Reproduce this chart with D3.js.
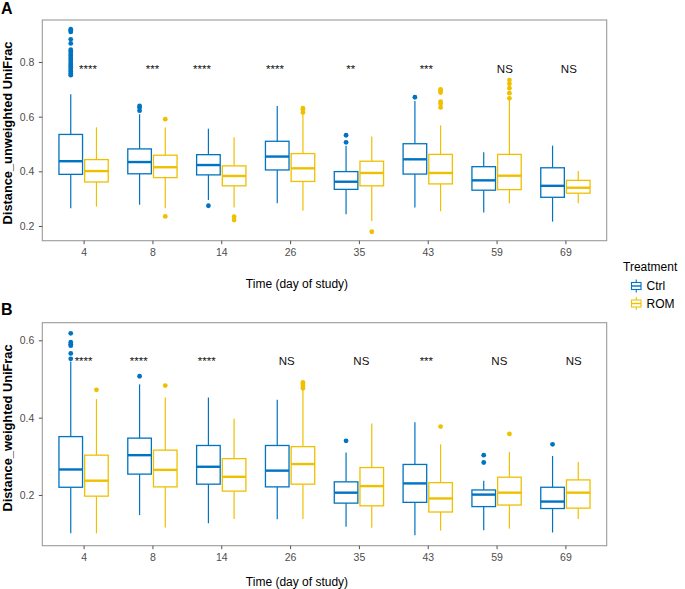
<!DOCTYPE html>
<html>
<head>
<meta charset="utf-8">
<script src="https://cdn.jsdelivr.net/npm/d3@7"></script>
<style>
  html, body { margin: 0; padding: 0; background: #fff; }
  svg { display: block; font-family: "Liberation Sans", Arial, Helvetica, sans-serif; }
</style>
</head>
<body>
<svg id="chart" width="685" height="589"></svg>
<script>
// ---------------- DATA ----------------
const days = ["4", "8", "14", "26", "35", "43", "59", "69"];
const treatments = ["Ctrl", "ROM"];

// Panel A: Distance_unweighted UniFrac — [lower whisker, Q1, median, Q3, upper whisker]
const unwCtrl = [
  [0.265, 0.389, 0.437, 0.535, 0.682],
  [0.278, 0.391, 0.434, 0.482, 0.609],
  [0.295, 0.387, 0.423, 0.461, 0.556],
  [0.283, 0.405, 0.454, 0.510, 0.639],
  [0.243, 0.334, 0.362, 0.399, 0.494],
  [0.268, 0.390, 0.444, 0.501, 0.657],
  [0.249, 0.331, 0.367, 0.417, 0.470],
  [0.216, 0.305, 0.347, 0.413, 0.494]
];
const unwRom = [
  [0.271, 0.361, 0.401, 0.443, 0.561],
  [0.265, 0.377, 0.415, 0.459, 0.560],
  [0.268, 0.347, 0.383, 0.420, 0.525],
  [0.256, 0.363, 0.411, 0.465, 0.607],
  [0.218, 0.347, 0.394, 0.437, 0.527],
  [0.254, 0.354, 0.394, 0.462, 0.568],
  [0.283, 0.333, 0.384, 0.462, 0.661],
  [0.283, 0.320, 0.340, 0.367, 0.401]
];
const unwCtrlOut = [
  [0.752, 0.758, 0.765, 0.772, 0.780, 0.786, 0.793, 0.800, 0.808, 0.815, 0.823, 0.830, 0.838, 0.845, 0.868, 0.883, 0.910, 0.915, 0.920],
  [0.622, 0.634, 0.639],
  [0.274],
  [],
  [0.506, 0.532],
  [0.671],
  [],
  []
];
const unwRomOut = [
  [],
  [0.235, 0.591],
  [0.222, 0.234],
  [0.615, 0.625, 0.631],
  [0.179],
  [0.634, 0.647, 0.655, 0.688, 0.694, 0.700],
  [0.667, 0.686, 0.704, 0.720, 0.734],
  []
];
const unwSig = ["****", "***", "****", "****", "**", "***", "NS", "NS"];

// Panel B: Distance_weighted UniFrac
const wCtrl = [
  [0.101, 0.220, 0.266, 0.351, 0.545],
  [0.148, 0.254, 0.303, 0.347, 0.486],
  [0.127, 0.228, 0.273, 0.328, 0.452],
  [0.137, 0.221, 0.263, 0.328, 0.446],
  [0.118, 0.179, 0.206, 0.234, 0.310],
  [0.096, 0.181, 0.230, 0.279, 0.388],
  [0.109, 0.170, 0.201, 0.213, 0.237],
  [0.103, 0.165, 0.183, 0.220, 0.301]
];
const wRom = [
  [0.101, 0.197, 0.237, 0.303, 0.448],
  [0.116, 0.221, 0.265, 0.316, 0.452],
  [0.138, 0.210, 0.247, 0.294, 0.397],
  [0.138, 0.228, 0.280, 0.325, 0.472],
  [0.115, 0.172, 0.223, 0.271, 0.385],
  [0.108, 0.156, 0.191, 0.232, 0.331],
  [0.113, 0.174, 0.206, 0.246, 0.311],
  [0.138, 0.166, 0.206, 0.239, 0.285]
];
const wCtrlOut = [
  [0.552, 0.566, 0.586, 0.590, 0.595, 0.618],
  [0.507],
  [],
  [],
  [0.340],
  [],
  [0.284, 0.303],
  [0.331]
];
const wRomOut = [
  [0.472],
  [0.483],
  [],
  [0.476, 0.482, 0.487, 0.491],
  [],
  [0.377],
  [0.358],
  []
];
const wSig = ["****", "****", "****", "NS", "NS", "***", "NS", "NS"];

const yTicksA = [0.2, 0.4, 0.6, 0.8];
const yTicksB = [0.2, 0.4, 0.6];

// ---------------- LAYOUT / STYLE ----------------
const colors = { Ctrl: "#0073C2", ROM: "#EFC000" };
const FONT = '"Liberation Sans", Arial, Helvetica, sans-serif';
// label horizontal nudges (in category-step units), as placed in the figure
const sigNudgeA = [0.064, 0, -0.28, -0.22, -0.12, -0.02, 0.12, 0.05];
const sigNudgeB = [0.0, -0.2, -0.21, -0.05, 0.035, -0.02, 0.04, 0.12];

const svg = d3.select("#chart");

function drawPanel(cfg) {
  const g = svg.append("g");
  const x = d3.scalePoint().domain(days).range([cfg.left, cfg.right]).padding(0.6);
  const step = x.step();
  const inner = d3.scaleBand().domain(treatments)
    .range([-0.358 * step, 0.358 * step]).paddingInner(0.082).paddingOuter(0);
  const bw = inner.bandwidth();
  const y = d3.scaleLinear().domain(cfg.yDomain).range([cfg.bottom, cfg.top]);

  // panel border
  g.append("rect")
    .attr("x", cfg.left).attr("y", cfg.top)
    .attr("width", cfg.right - cfg.left).attr("height", cfg.bottom - cfg.top)
    .attr("fill", "none").attr("stroke", "#9a9a9a").attr("stroke-width", 1.1);

  // y axis
  const yAxis = g.append("g").attr("transform", `translate(${cfg.left},0)`)
    .call(d3.axisLeft(y).tickValues(cfg.yTicks).tickFormat(d3.format(".1f"))
      .tickSize(3.5).tickPadding(4.5));
  yAxis.select(".domain").remove();
  yAxis.selectAll("line").attr("stroke", "#555");
  yAxis.selectAll("text").attr("fill", "#4d4d4d").style("font-size", "10.5px").style("font-family", FONT);

  // x axis
  const xAxis = g.append("g").attr("transform", `translate(0,${cfg.bottom})`)
    .call(d3.axisBottom(x).tickSize(3.5).tickPadding(4.5));
  xAxis.select(".domain").remove();
  xAxis.selectAll("line").attr("stroke", "#555");
  xAxis.selectAll("text").attr("fill", "#4d4d4d").style("font-size", "10.5px").style("font-family", FONT);

  // boxes
  const series = [
    { t: "Ctrl", stats: cfg.ctrl, out: cfg.ctrlOut },
    { t: "ROM", stats: cfg.rom, out: cfg.romOut }
  ];
  series.forEach(s => {
    const col = colors[s.t];
    days.forEach((d, i) => {
      const st = s.stats[i];
      const x0 = x(d) + inner(s.t);
      const cx = x0 + bw / 2;
      const bg = g.append("g");
      bg.append("line").attr("x1", cx).attr("x2", cx).attr("y1", y(st[3])).attr("y2", y(st[4]))
        .attr("stroke", col).attr("stroke-width", 1.2);
      bg.append("line").attr("x1", cx).attr("x2", cx).attr("y1", y(st[1])).attr("y2", y(st[0]))
        .attr("stroke", col).attr("stroke-width", 1.2);
      bg.append("rect").attr("x", x0).attr("y", y(st[3]))
        .attr("width", bw).attr("height", y(st[1]) - y(st[3]))
        .attr("fill", "#fff").attr("stroke", col).attr("stroke-width", 1.3);
      bg.append("line").attr("x1", x0).attr("x2", x0 + bw).attr("y1", y(st[2])).attr("y2", y(st[2]))
        .attr("stroke", col).attr("stroke-width", 2.4);
      bg.selectAll("circle").data(s.out[i]).join("circle")
        .attr("cx", cx).attr("cy", v => y(v)).attr("r", 2.4).attr("fill", col);
    });
  });

  // significance labels
  g.selectAll("text.sig").data(cfg.sig).join("text").attr("class", "sig")
    .attr("x", (s, i) => x(days[i]) + cfg.sigNudge[i] * step)
    .attr("y", y(cfg.sigY))
    .attr("text-anchor", "middle")
    .style("font-size", "11.5px").style("font-family", FONT).attr("fill", "#111")
    .text(s => s);

  // y title
  g.append("text")
    .attr("transform", `translate(${cfg.yTitleX},${cfg.yTitleY}) rotate(-90)`)
    .attr("text-anchor", "middle")
    .style("font-size", "12.8px").style("font-weight", "bold").style("font-family", FONT)
    .attr("fill", "#000").text(cfg.yTitle);

  // x title
  g.append("text").attr("x", 297).attr("y", cfg.xTitleY).attr("text-anchor", "middle")
    .style("font-size", "12px").style("font-family", FONT).attr("fill", "#000")
    .text("Time (day of study)");

  // panel tag
  g.append("text").attr("x", 1).attr("y", cfg.tagY)
    .style("font-size", "16px").style("font-weight", "bold").style("font-family", FONT)
    .attr("fill", "#000").text(cfg.tag);
}

drawPanel({
  left: 42.3, right: 606.7, top: 20, bottom: 240.7,
  yDomain: [0.1462, 0.9537], yTicks: yTicksA,
  ctrl: unwCtrl, rom: unwRom, ctrlOut: unwCtrlOut, romOut: unwRomOut,
  sig: unwSig, sigNudge: sigNudgeA, sigY: 0.76,
  yTitle: "Distance_unweighted UniFrac", yTitleX: 11.5, yTitleY: 133,
  xTitleY: 287.5, tag: "A", tagY: 13.5
});

drawPanel({
  left: 42.3, right: 606.7, top: 322.7, bottom: 545.7,
  yDomain: [0.0689, 0.6455], yTicks: yTicksB,
  ctrl: wCtrl, rom: wRom, ctrlOut: wCtrlOut, romOut: wRomOut,
  sig: wSig, sigNudge: sigNudgeB, sigY: 0.535,
  yTitle: "Distance_weighted UniFrac", yTitleX: 11.5, yTitleY: 428,
  xTitleY: 585.5, tag: "B", tagY: 315
});

// ---------------- LEGEND ----------------
const lg = svg.append("g");
lg.append("text").attr("x", 623).attr("y", 270.5)
  .style("font-size", "12px").style("font-family", FONT).attr("fill", "#000").text("Treatment");
treatments.forEach((t, i) => {
  const top = 279.5 + i * 17.5;
  const col = colors[t];
  const kx = 631.5, kw = 9.5, kh = 13;
  lg.append("line").attr("x1", kx + kw / 2).attr("x2", kx + kw / 2).attr("y1", top).attr("y2", top + kh)
    .attr("stroke", col).attr("stroke-width", 1.1);
  lg.append("rect").attr("x", kx).attr("y", top + 3).attr("width", kw).attr("height", kh - 6)
    .attr("fill", "#fff").attr("stroke", col).attr("stroke-width", 1.1);
  lg.append("line").attr("x1", kx).attr("x2", kx + kw).attr("y1", top + kh / 2).attr("y2", top + kh / 2)
    .attr("stroke", col).attr("stroke-width", 1.4);
  lg.append("text").attr("x", 646.5).attr("y", top + 10.5)
    .style("font-size", "12px").style("font-family", FONT).attr("fill", "#000").text(t);
});
</script>
</body>
</html>
